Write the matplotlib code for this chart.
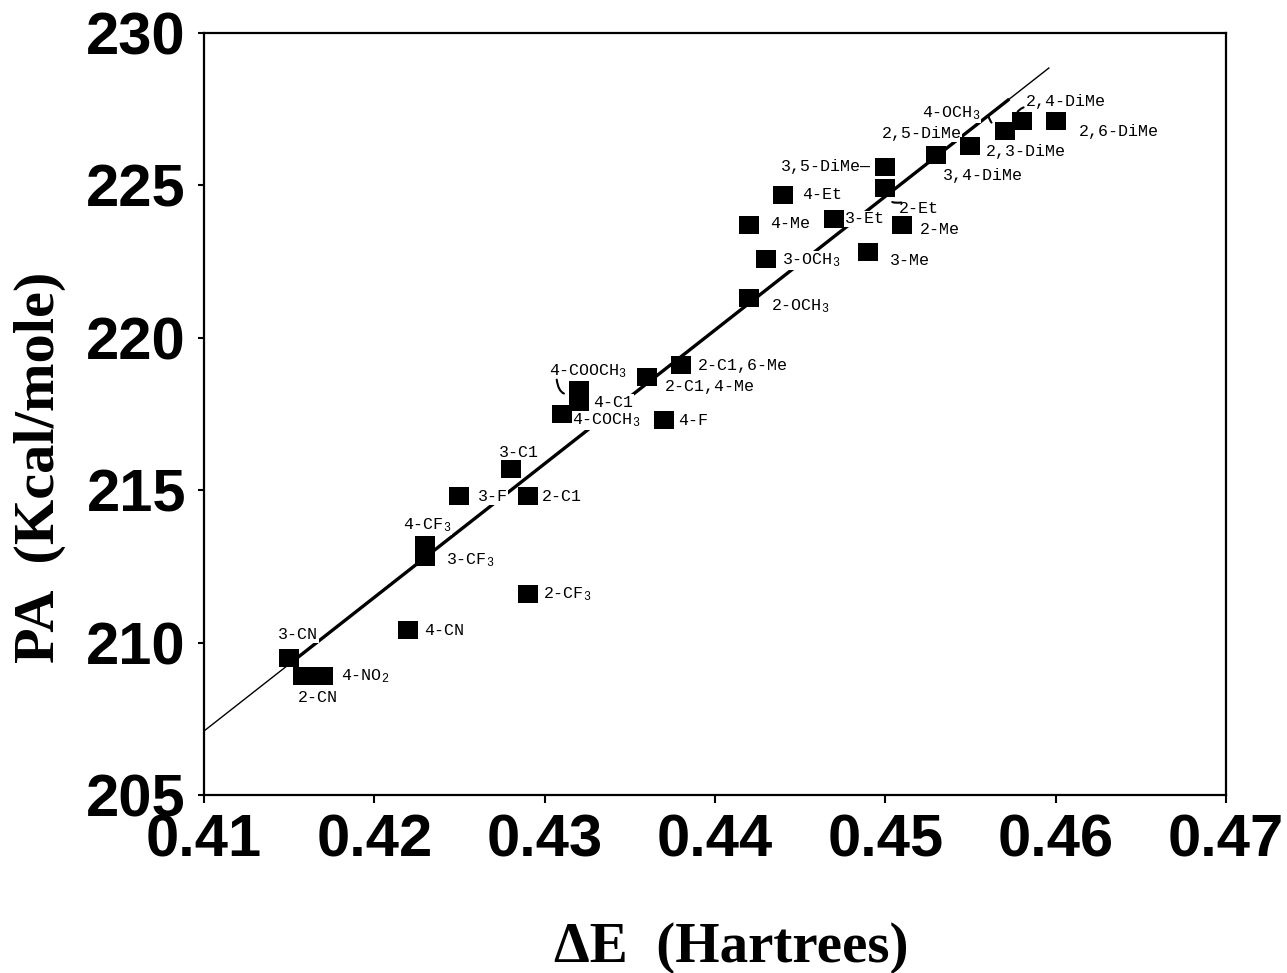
import matplotlib.pyplot as plt
import numpy as np
from matplotlib.path import Path

plt.rcParams["mathtext.fontset"] = "custom"
plt.rcParams["mathtext.rm"] = "Liberation Mono"
plt.rcParams["mathtext.it"] = "Liberation Mono"

# substituent, delta E (Hartrees), PA (kcal/mole)
names = [
    "3-CN", "2-CN", "4-NO$_2$", "4-CN", "4-CF$_3$", "3-CF$_3$", "3-F",
    "3-C1", "2-C1", "2-CF$_3$", "4-COCH$_3$", "4-COOCH$_3$", "4-C1",
    "2-C1,4-Me", "2-C1,6-Me", "4-F", "2-OCH$_3$", "3-OCH$_3$", "4-Me",
    "4-Et", "3-Et", "3-Me", "2-Me", "2-Et", "3,5-DiMe", "3,4-DiMe",
    "2,5-DiMe", "2,3-DiMe", "4-OCH$_3$", "2,4-DiMe", "2,6-DiMe",
]
dE = [
    0.415, 0.4158, 0.417, 0.422, 0.423, 0.423, 0.425,
    0.428, 0.429, 0.429, 0.431, 0.432, 0.432,
    0.436, 0.438, 0.437, 0.442, 0.443, 0.442,
    0.444, 0.447, 0.449, 0.451, 0.450, 0.450, 0.453,
    0.453, 0.455, 0.457, 0.458, 0.460,
]
PA = [
    209.5, 208.9, 208.9, 210.4, 213.2, 212.8, 214.8,
    215.7, 214.8, 211.6, 217.5, 218.3, 217.9,
    218.7, 219.1, 217.3, 221.3, 222.6, 223.7,
    224.7, 223.9, 222.8, 223.7, 224.9, 225.6, 226.0,
    226.0, 226.3, 226.8, 227.1, 227.1,
]

# least-squares line as drawn
fit_x = [0.41, 0.4596]
fit_y = [207.1, 228.85]
fit_thick_x = [0.4152, 0.4572]

xticks = [0.41, 0.42, 0.43, 0.44, 0.45, 0.46, 0.47]
xticklabels = ["0.41", "0.42", "0.43", "0.44", "0.45", "0.46", "0.47"]
yticks = [205, 210, 215, 220, 225, 230]

# label offsets in pixels (dx, dy, ha)
label_pos = {
    "3-CN": (9, 23, "center"),
    "2-CN": (15, -21, "center"),
    "4-NO$_2$": (18, 0, "left"),
    "4-CN": (16, 0, "left"),
    "4-CF$_3$": (2, 20, "center"),
    "3-CF$_3$": (21, -3, "left"),
    "3-F": (18, 0, "left"),
    "3-C1": (8, 16, "center"),
    "2-C1": (14, 0, "left"),
    "2-CF$_3$": (15, 0, "left"),
    "4-COCH$_3$": (10, -6, "left"),
    "4-COOCH$_3$": (-30, 18, "left"),
    "4-C1": (14, -1, "left"),
    "2-C1,4-Me": (18, -9, "left"),
    "2-C1,6-Me": (17, 0, "left"),
    "4-F": (14, 0, "left"),
    "2-OCH$_3$": (22, -8, "left"),
    "3-OCH$_3$": (16, -2, "left"),
    "4-Me": (21, 2, "left"),
    "4-Et": (19, 0, "left"),
    "3-Et": (11, 0, "left"),
    "3-Me": (22, -8, "left"),
    "2-Me": (18, -4, "left"),
    "2-Et": (14, -20, "left"),
    "3,5-DiMe": (-14, 1, "right"),
    "3,4-DiMe": (7, -21, "left"),
    "2,5-DiMe": (-15, 21, "center"),
    "2,3-DiMe": (15, -6, "left"),
    "4-OCH$_3$": (-83, 17, "left"),
    "2,4-DiMe": (4, 20, "left"),
    "2,6-DiMe": (23, -10, "left"),
}

fig = plt.figure(figsize=(12.87, 9.73), dpi=100)
ax = fig.add_axes([0.1585, 0.1829, 0.7941, 0.7832])

slope = (fit_y[1] - fit_y[0]) / (fit_x[1] - fit_x[0])
ax.plot(fit_x, fit_y, color="black", linewidth=1.0, zorder=1)
ax.plot(fit_thick_x, [fit_y[0] + slope * (v - fit_x[0]) for v in fit_thick_x],
        color="black", linewidth=2.4, zorder=1)

box = Path([(-1.15, -1), (1.15, -1), (1.15, 1), (-1.15, 1), (-1.15, -1)],
           [Path.MOVETO, Path.LINETO, Path.LINETO, Path.LINETO, Path.CLOSEPOLY])
ax.plot(dE, PA, linestyle="none", marker=box, markersize=14.5,
        markeredgewidth=0, color="black", zorder=4)

for n, x, y in zip(names, dE, PA):
    dx, dy, ha = label_pos[n]
    txt = n + "\u2014" if n == "3,5-DiMe" else n
    ax.annotate(txt, (x, y), xytext=(dx, dy), textcoords="offset pixels",
                ha=ha, va="center", fontsize=12, family="Liberation Mono",
                zorder=3, bbox=dict(boxstyle="square,pad=0.05", fc="white", ec="none"))


# little curved leaders
def curl(xa, ya, dxb, dyb, rad):
    ax.annotate("", xy=(xa, ya), xytext=(dxb, dyb), textcoords="offset pixels",
                arrowprops=dict(arrowstyle="-", lw=1.5, color="black",
                                connectionstyle="arc3,rad=%s" % rad,
                                shrinkA=0, shrinkB=11),
                zorder=5)


curl(0.432, 218.3, -22, 10, 0.8)
curl(0.450, 224.9, 16, -14, -0.6)
curl(0.457, 226.8, -16, 14, 0.3)
curl(0.458, 227.1, 2, 14, 0.8)

ax.set_xlim(0.41, 0.47)
ax.set_ylim(205, 230)
ax.set_xticks(xticks)
ax.set_xticklabels(xticklabels)
ax.set_yticks(yticks)
for lab in ax.get_xticklabels() + ax.get_yticklabels():
    lab.set_fontfamily("Liberation Sans")
    lab.set_fontweight("bold")
    lab.set_fontsize(43)
ax.tick_params(axis="x", direction="out", length=6, width=1.5, pad=7)
ax.tick_params(axis="y", direction="out", length=4, width=1.5, pad=9)
for s in ax.spines.values():
    s.set_linewidth(1.6)

ax.set_xlabel("\u0394E  (Hartrees)", family="Liberation Serif", fontweight="bold",
              fontsize=41)
ax.set_ylabel("PA  (Kcal/mole)", family="Liberation Serif", fontweight="bold",
              fontsize=42)
ax.xaxis.set_label_coords(0.516, -0.166)
ax.yaxis.set_label_coords(-0.135, 0.43)

fig.savefig("out.png", dpi=100)
